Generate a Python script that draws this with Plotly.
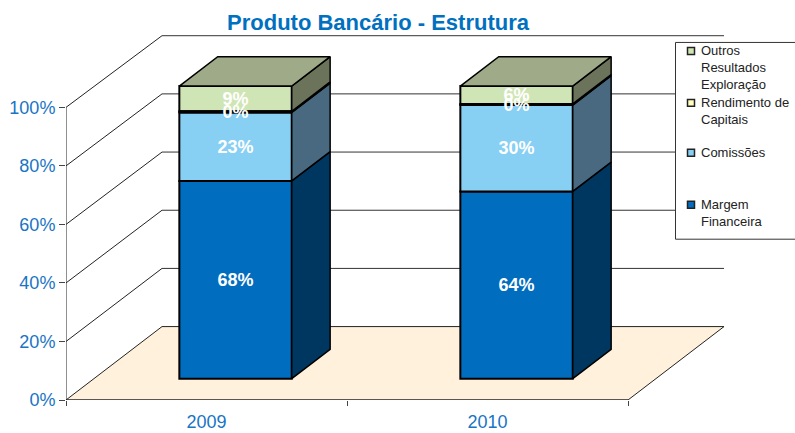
import plotly.graph_objects as go

# ---- data ----
categories = ["2009", "2010"]
margem = [67.6, 64.0]
comissoes = [23.4, 29.5]
rendimento = [0.4, 0.4]
outros = [8.6, 6.1]
y_ticks = [0, 20, 40, 60, 80, 100]
y_tick_labels = ["0%", "20%", "40%", "60%", "80%", "100%"]

series_names = ["Margem Financeira", "Comissões", "Rendimento de Capitais", "Outros Resultados Exploração"]
series_values = [margem, comissoes, rendimento, outros]
front_colors = ["#006DBF", "#87CFF3", "#FFFFBF", "#D0E5B5"]
side_colors = ["#003760", "#48697F", "#6B6B4F", "#6B735B"]
top_color = "#9EAA88"
floor_color = "#FFF1DC"
blue_text = "#1874C4"

# ---- oblique projection of the 3-D box ----
W, H = 795, 433
L, B = 66, 400.5
px_x = 281.0          # pixels per category
px_y = 2.93           # pixels per percent
DX = 96 / px_x        # depth offset in x units
DY = 73.5 / px_y      # depth offset in y units
Z0, Z1 = 0.29, 0.69   # bar depth span
BAR_W = 0.40
BAR_SHIFT = 1.2 / px_x
BACK_SCALE = 0.994    # the back wall is very slightly shorter than the front axis
x_range = [0, (W - L) / px_x]
y_range = [0, B / px_y]


def pj(x, y, z):
    return x + z * DX, y + z * DY


def paper_x(p):
    return (p - L) / (W - L)


def paper_y(p):
    return (B - p) / B


cat_x = [i + 0.5 for i in range(len(categories))]
box_x = [c + BAR_SHIFT for c in cat_x]
bar_x = [pj(c, 0, Z0)[0] for c in box_x]

fig = go.Figure()

# cumulative bases per series
bases = []
cum = [0.0] * len(categories)
for vals in series_values:
    bases.append(list(cum))
    cum = [c + v for c, v in zip(cum, vals)]
tops = cum

# front faces; the thin series goes last so that its label stays on top
for k in [0, 1, 3, 2]:
    name, vals, col = series_names[k], series_values[k], front_colors[k]
    fig.add_trace(go.Bar(
        x=bar_x, y=vals, base=[c + Z0 * DY for c in bases[k]], width=BAR_W, name=name,
        marker=dict(color=col, line=dict(color="black", width=2)),
        texttemplate="%{y:.0f}%", textposition="inside", insidetextanchor="middle",
        textangle=0, constraintext="none",
        textfont=dict(family="Liberation Sans", size=18, color="white", weight="bold"),
        showlegend=False, hovertemplate=name + ": %{y:.0f}%<extra></extra>",
    ))

# side faces
for k, (vals, col) in enumerate(zip(series_values, side_colors)):
    xs, ys = [], []
    for i, c in enumerate(box_x):
        xr = c + BAR_W / 2
        y0, y1 = bases[k][i], bases[k][i] + vals[i]
        pts = [pj(xr, y0, Z0), pj(xr, y1, Z0), pj(xr, y1, Z1), pj(xr, y0, Z1), pj(xr, y0, Z0)]
        xs += [p[0] for p in pts] + [None]
        ys += [p[1] for p in pts] + [None]
    fig.add_trace(go.Scatter(x=xs, y=ys, mode="lines", fill="toself", fillcolor=col,
                             line=dict(color="black", width=1.5), hoverinfo="skip", showlegend=False))

# top faces
xs, ys = [], []
for i, c in enumerate(box_x):
    xl, xr = c - BAR_W / 2, c + BAR_W / 2
    pts = [pj(xl, tops[i], Z0), pj(xr, tops[i], Z0), pj(xr, tops[i], Z1), pj(xl, tops[i], Z1), pj(xl, tops[i], Z0)]
    xs += [p[0] for p in pts] + [None]
    ys += [p[1] for p in pts] + [None]
fig.add_trace(go.Scatter(x=xs, y=ys, mode="lines", fill="toself", fillcolor=top_color,
                         line=dict(color="black", width=1.5), hoverinfo="skip", showlegend=False))

# axis lines
n = len(categories)
fig.add_trace(go.Scatter(x=[0, 0, None, 0, n], y=[y_ticks[-1], 0, None, 0, 0], mode="lines",
                         line=dict(color="#222222", width=1), cliponaxis=False,
                         hoverinfo="skip", showlegend=False))

shapes = []
# floor
fx = [pj(0, 0, 0), pj(n, 0, 0), pj(n, 0, 1), pj(0, 0, 1)]
shapes.append(dict(type="path", xref="x", yref="y", layer="below",
                   path="M " + " L ".join(f"{p[0]} {p[1]}" for p in fx) + " Z",
                   fillcolor=floor_color, line=dict(color="#222222", width=1)))
# wall gridlines
for t in y_ticks[1:]:
    a, b, c = pj(0, t, 0), pj(0, t * BACK_SCALE, 1), pj(n, t * BACK_SCALE, 1)
    shapes.append(dict(type="line", xref="x", yref="y", layer="below", x0=a[0], y0=a[1], x1=b[0], y1=b[1],
                       line=dict(color="#222222", width=1)))
    shapes.append(dict(type="line", xref="x", yref="y", layer="below", x0=b[0], y0=b[1], x1=c[0], y1=c[1],
                       line=dict(color="#333333", width=1)))

# legend box
shapes.append(dict(type="rect", xref="paper", yref="paper", layer="above",
                   x0=paper_x(675.5), x1=paper_x(800), y0=paper_y(239.5), y1=paper_y(42.5),
                   fillcolor="white", line=dict(color="#333333", width=1)))

legend_rows = [
    ("Outros<br>Resultados<br>Exploração", front_colors[3], 51),
    ("Rendimento de<br>Capitais", front_colors[2], 103),
    ("Comissões", front_colors[1], 153),
    ("Margem<br>Financeira", front_colors[0], 205),
]
annotations = []
for text, col, yc in legend_rows:
    shapes.append(dict(type="rect", xref="paper", yref="paper", layer="above",
                       x0=paper_x(687.5), x1=paper_x(694.5), y0=paper_y(yc + 3.5), y1=paper_y(yc - 3.5),
                       fillcolor=col, line=dict(color="#222222", width=1.5)))
    annotations.append(dict(xref="paper", yref="paper", x=paper_x(699.5), y=paper_y(yc - 9),
                            xanchor="left", yanchor="top", align="left", showarrow=False, text=text,
                            borderpad=0, font=dict(family="Liberation Sans", size=13, color="#222222")))

fig.update_layout(
    width=W, height=H, autosize=False, barmode="overlay",
    margin=dict(l=L, r=0, t=0, b=H - B),
    paper_bgcolor="white", plot_bgcolor="white",
    title=dict(text="<b>Produto Bancário - Estrutura</b>", x=378 / W, xanchor="center",
               y=1 - 22 / H, yanchor="middle",
               font=dict(family="Liberation Sans", size=22, color="#0070C0")),
    xaxis=dict(range=x_range, showgrid=False, zeroline=False, showline=False,
               tickvals=cat_x, ticktext=categories, ticks="", ticklabelstandoff=9,
               tickfont=dict(family="Liberation Sans", size=18, color=blue_text),
               minor=dict(tickvals=list(range(n + 1)), ticks="outside", ticklen=5, tickcolor="#444444")),
    yaxis=dict(range=y_range, showgrid=False, zeroline=False, showline=False,
               tickvals=y_ticks, ticktext=y_tick_labels, ticks="outside", ticklen=6, tickcolor="#444444",
               tickfont=dict(family="Liberation Sans", size=18, color=blue_text)),
    shapes=shapes, annotations=annotations, showlegend=False,
)

fig.write_html("out.html", config={"displayModeBar": False},
               post_script="document.body.style.margin='0';document.documentElement.style.overflow='hidden';")
